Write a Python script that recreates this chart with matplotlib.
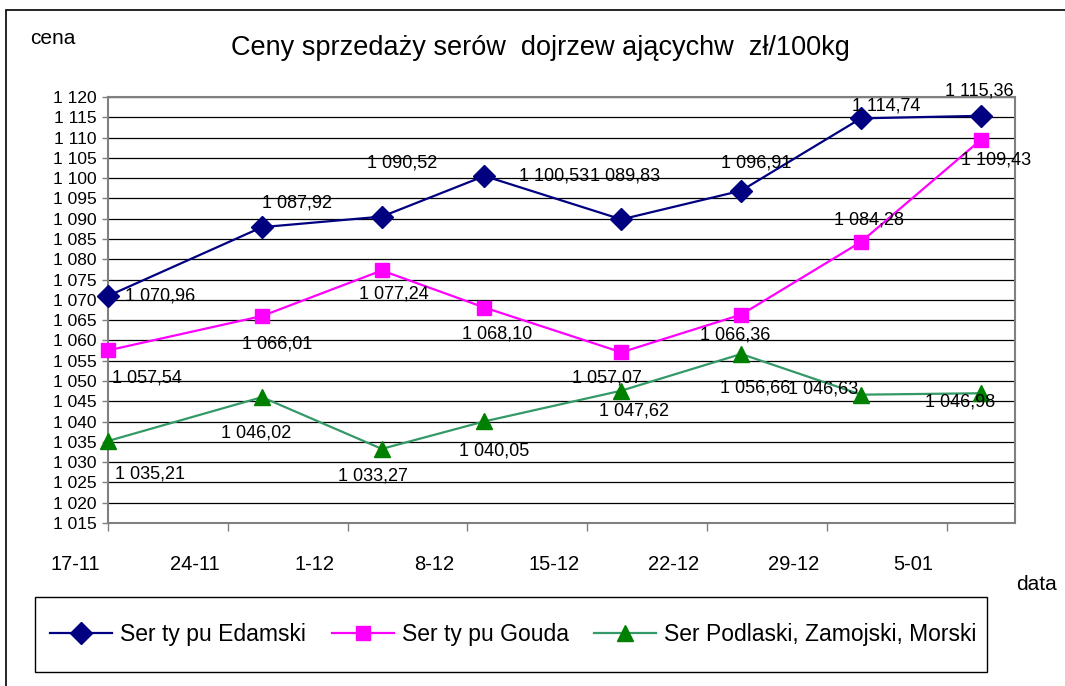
import numpy as np
import pandas as pd
import matplotlib
matplotlib.use('Agg')
import matplotlib.pyplot as plt
from matplotlib.patches import Rectangle
from matplotlib.transforms import ScaledTranslation

plt.rcParams['font.family'] = ['Liberation Sans', 'DejaVu Sans']

# dane
daty = pd.to_datetime(['2008-11-17', '2008-11-26', '2008-12-03', '2008-12-09',
                       '2008-12-17', '2008-12-24', '2008-12-31', '2009-01-07'])
edamski = [1070.96, 1087.92, 1090.52, 1100.53, 1089.83, 1096.91, 1114.74, 1115.36]
gouda = [1057.54, 1066.01, 1077.24, 1068.10, 1057.07, 1066.36, 1084.28, 1109.43]
podlaski = [1035.21, 1046.02, 1033.27, 1040.05, 1047.62, 1056.66, 1046.63, 1046.98]
tick_daty = pd.date_range('2008-11-17', periods=8, freq='7D')
tick_labels = ['17-11', '24-11', '1-12', '8-12', '15-12', '22-12', '29-12', '5-01']
nazwy = ['Ser ty pu Edamski', 'Ser ty pu Gouda', 'Ser Podlaski, Zamojski, Morski']

# przesuniecia etykiet (piksele, x w prawo, y w dol)
off_e = [(52, 0), (35, -24), (20, -54), (70, 0), (4, -43), (15, -28), (25, -12), (-1, -25)]
off_g = [(39, 28), (15, 28), (12, 24), (13, 26), (-14, 26), (-6, 20), (8, -22), (15, 20)]
off_p = [(42, 33), (-6, 36), (-9, 27), (10, 30), (13, 20), (14, 34), (-38, -6), (-21, 9)]

W, H = 1065, 686
fig = plt.figure(figsize=(W / 100, H / 100), dpi=100)
ax = fig.add_axes([108 / W, 1 - 523 / H, (1015 - 108) / W, (523 - 97) / H])

def pl(v):
    s = f"{v:,.2f}"
    return s.replace(',', ' ').replace('.', ',')

serie = [
    (edamski, '#000080', 'D', 11, '#000080', off_e),
    (gouda, '#FF00FF', 's', 10, '#FF00FF', off_g),
    (podlaski, '#339966', '^', 11, '#008000', off_p),
]
linie = []
for (vals, col, mk, ms, mcol, offs), nm in zip(serie, nazwy):
    ln, = ax.plot(daty, vals, color=col, lw=1.6, marker=mk, ms=ms,
                  mfc=mcol, mec=mcol, label=nm, zorder=3, clip_on=False)
    linie.append(ln)
    for d, v, (dx, dy) in zip(daty, vals, offs):
        ax.annotate(pl(v), (d, v), xytext=(dx, -dy), textcoords='offset pixels',
                    ha='center', va='center', fontsize=13, zorder=4)

ax.set_ylim(1015, 1120)
ax.set_yticks(np.arange(1015, 1121, 5))
ax.set_yticklabels([f"{int(v):,}".replace(',', ' ') for v in np.arange(1015, 1121, 5)])
ax.set_xlim(pd.Timestamp('2008-11-17'), pd.Timestamp('2009-01-09'))
ax.set_xticks(tick_daty)
ax.set_xticklabels(tick_labels)
ax.grid(axis='y', color='black', lw=0.9, zorder=0)
ax.tick_params(axis='y', length=4, width=1, color='#808080', labelsize=12.5, pad=4)
ax.tick_params(axis='x', length=6, width=1, color='#808080', labelsize=14.5, pad=17)
for lab in ax.get_xticklabels():
    lab.set_transform(lab.get_transform() + ScaledTranslation(-0.33, 0, fig.dpi_scale_trans))
for sp in ax.spines.values():
    sp.set_color('#808080')
    sp.set_linewidth(1.5)

fig.text(540 / W, 1 - 48 / H, 'Ceny sprzedaży serów  dojrzew ającychw  zł/100kg',
         ha='center', va='center', fontsize=19.5)
fig.text(30 / W, 1 - 38 / H, 'cena', ha='left', va='center', fontsize=15)
fig.text(1057 / W, 1 - 585 / H, 'data', ha='right', va='center', fontsize=15)

# legenda: ramka osobno
fig.add_artist(Rectangle((35 / W, 1 - 672 / H), (987 - 35) / W, 75 / H,
                         transform=fig.transFigure, fill=False, ec='black', lw=1.0))
fig.legend(handles=linie, loc='center left', bbox_to_anchor=(50 / W, 1 - 635 / H),
           ncol=3, frameon=False, fontsize=16.5, handlelength=2.7, handletextpad=0.35,
           borderpad=0, borderaxespad=0, columnspacing=1.13)

fig.add_artist(Rectangle((6 / W, -0.1), 1.2, 1 - 10 / H + 0.1, transform=fig.transFigure,
                         fill=False, ec='black', lw=1.2))

plt.savefig('out.png', dpi=100)
